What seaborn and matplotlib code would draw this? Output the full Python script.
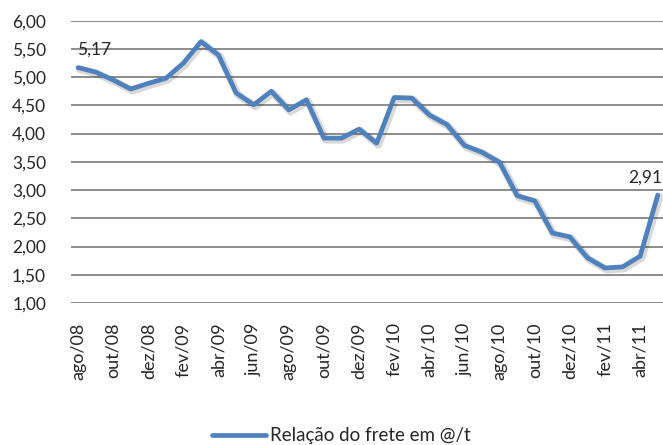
import matplotlib
matplotlib.use('Agg')
import matplotlib.pyplot as plt
import matplotlib.patheffects as pe
import seaborn as sb
import pandas as pd

# monthly series, ago/08 .. mai/11
months = ['ago/08', 'set/08', 'out/08', 'nov/08', 'dez/08', 'jan/09', 'fev/09', 'mar/09',
          'abr/09', 'mai/09', 'jun/09', 'jul/09', 'ago/09', 'set/09', 'out/09', 'nov/09',
          'dez/09', 'jan/10', 'fev/10', 'mar/10', 'abr/10', 'mai/10', 'jun/10', 'jul/10',
          'ago/10', 'set/10', 'out/10', 'nov/10', 'dez/10', 'jan/11', 'fev/11', 'mar/11',
          'abr/11', 'mai/11']
frete = [5.17, 5.09, 4.95, 4.79, 4.89, 4.98, 5.25, 5.63, 5.39, 4.72, 4.51, 4.75,
         4.42, 4.60, 3.92, 3.92, 4.08, 3.83, 4.64, 4.63, 4.33, 4.16, 3.79, 3.67,
         3.49, 2.90, 2.81, 2.24, 2.17, 1.80, 1.62, 1.64, 1.83, 2.91]
yticks = [1.0, 1.5, 2.0, 2.5, 3.0, 3.5, 4.0, 4.5, 5.0, 5.5, 6.0]
series_name = 'Relação do frete em @/t'

df = pd.DataFrame({'idx': range(len(months)), 'valor': frete})

sb.set_style('white')
plt.rcParams['font.family'] = ['Lato', 'DejaVu Sans']
fs = 12.5

fig = plt.figure(figsize=(6.63, 4.45), dpi=100)
ax = fig.add_axes([71/663, 1 - 303/445, 592/663, (303 - 20.7)/445])

sb.lineplot(data=df, x='idx', y='valor', ax=ax, color='#4F81BD', linewidth=3.4,
            label=series_name, legend=False,
            path_effects=[pe.SimpleLineShadow(offset=(1.2, -1.2), alpha=0.15, shadow_color='black',
                                              linewidth=5.5),
                          pe.Normal()])

ax.set_xlim(-0.4, 33.3)
ax.set_ylim(1.0, 6.0)
ax.set_yticks(yticks)
ax.set_yticklabels([f'{v:.2f}'.replace('.', ',') for v in yticks], fontsize=fs)
ax.yaxis.grid(True, color='#8c8c8c', linewidth=1.4)
ax.set_axisbelow(True)
for s in ax.spines.values():
    s.set_visible(False)
ax.tick_params(axis='y', length=0, pad=18)

xt = list(range(0, len(months), 2))
ax.set_xticks(xt)
ax.set_xticklabels([months[i] for i in xt], rotation=90, fontsize=13)
ax.tick_params(axis='x', length=0, pad=14)
ax.set_xlabel('')
ax.set_ylabel('')

# data labels at the ends
ax.annotate(f'{frete[0]:.2f}'.replace('.', ','), (0, frete[0]), xytext=(-1, 7),
            textcoords='offset points', fontsize=fs, ha='left', va='bottom')
ax.annotate(f'{frete[-1]:.2f}'.replace('.', ','), (len(frete) - 1, frete[-1]), xytext=(3, 7),
            textcoords='offset points', fontsize=fs, ha='right', va='bottom',
            annotation_clip=False)

line = plt.Line2D([], [], color='#4F81BD', linewidth=3.4)
fig.legend([line], [series_name], loc='center', bbox_to_anchor=(0.515, 1 - 436/445),
           frameon=False, fontsize=13.5, handlelength=2.9, handletextpad=0.2)

fig.savefig('out.png', dpi=100)
